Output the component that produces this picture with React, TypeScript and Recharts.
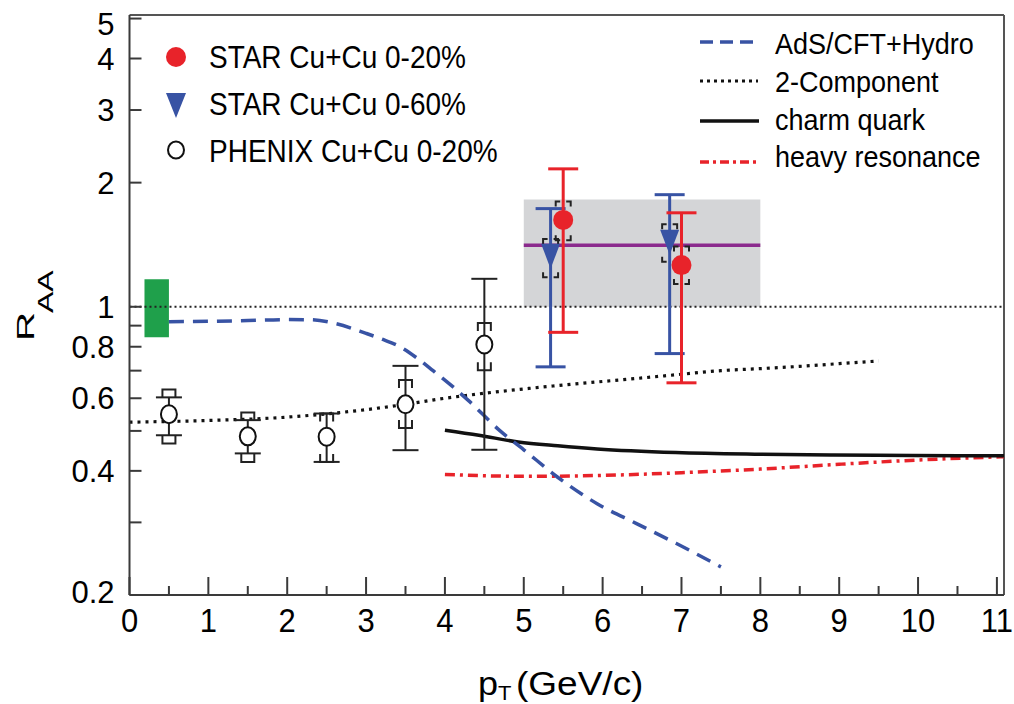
import React from 'react';
import {
  ComposedChart,
  XAxis,
  YAxis,
  Line,
  Scatter,
  ErrorBar,
  ReferenceArea,
  ReferenceLine,
} from 'recharts';

const FONT = '"Liberation Sans", Arial, Helvetica, sans-serif';

const X_MAX = 11.09;
const Y_MIN = 0.2;
const Y_MAX = 5.1;

const xTicks = [0, 0.5, 1, 1.5, 2, 2.5, 3, 3.5, 4, 4.5, 5, 5.5, 6, 6.5, 7, 7.5, 8, 8.5, 9, 9.5, 10, 10.5, 11];
const xTickLabels = ['0', '1', '2', '3', '4', '5', '6', '7', '8', '9', '10', '11'];
const yTicks = [0.2, 0.3, 0.4, 0.5, 0.6, 0.7, 0.8, 0.9, 1, 2, 3, 4, 5];
const yTickLabels = ['0.2', '', '0.4', '', '0.6', '', '0.8', '', '1', '2', '3', '4', '5'];

// PHENIX Cu+Cu 0-20%
const phenixX = [0.5, 1.5, 2.5, 3.5, 4.5];
const phenixY = [0.549, 0.485, 0.484, 0.58, 0.81];
const phenixStatHi = [0.603, 0.531, 0.551, 0.719, 1.169];
const phenixStatLo = [0.488, 0.441, 0.4205, 0.449, 0.45];
const phenixSysHi = [0.63, 0.554, 0.551, 0.664, 0.913];
const phenixSysLo = [0.466, 0.4205, 0.4205, 0.508, 0.702];

// STAR Cu+Cu 0-20%
const star20X = [5.5, 7.0];
const star20Y = [1.624, 1.262];
const star20StatHi = [2.16, 1.69];
const star20StatLo = [0.867, 0.654];
const star20SysHi = [1.8, 1.4];
const star20SysLo = [1.45, 1.135];

// STAR Cu+Cu 0-60%
const star60X = [5.34, 6.85];
const star60Y = [1.33, 1.438];
const star60StatHi = [1.73, 1.87];
const star60StatLo = [0.715, 0.77];
const star60SysHi = [1.46, 1.585];
const star60SysLo = [1.18, 1.285];

// Model curves
const adsX = [0.5, 1.0, 1.5, 2.0, 2.3, 2.6, 3.0, 3.2, 3.43, 3.65, 3.85, 4.1, 4.3, 4.7, 5.0, 5.43, 5.93, 6.43, 6.93, 7.5];
const adsY = [0.92, 0.922, 0.926, 0.931, 0.93, 0.912, 0.862, 0.835, 0.8, 0.75, 0.7, 0.64, 0.592, 0.5, 0.45, 0.386, 0.333, 0.298, 0.267, 0.234];
const twoCompX = [0, 1, 2, 2.5, 3, 3.5, 4, 4.5, 5, 5.5, 6, 6.5, 7, 7.5, 8, 8.5, 9, 9.5];
const twoCompY = [0.525, 0.53, 0.54, 0.55, 0.563, 0.58, 0.6, 0.617, 0.632, 0.646, 0.659, 0.672, 0.686, 0.7, 0.708, 0.717, 0.728, 0.739];
const charmX = [4, 4.43, 4.93, 5.43, 5.93, 6.93, 7.93, 8.93, 9.93, 11.09];
const charmY = [0.502, 0.488, 0.47, 0.46, 0.452, 0.443, 0.439, 0.437, 0.436, 0.435];
const heavyX = [4, 5, 6, 7, 8, 9, 10, 11.09];
const heavyY = [0.392, 0.388, 0.39, 0.396, 0.404, 0.415, 0.425, 0.433];

// Bands and reference lines
const normBox = { x1: 0.19, x2: 0.5, y1: 0.843, y2: 1.166 };
const grayBox = { x1: 5, x2: 8, y1: 1.0, y2: 1.82 };
const purpleLevel = 1.41;

const toXY = (xs: number[], ys: number[]) => xs.map((x, i) => ({ x, y: ys[i] }));
const toPoints = (xs: number[], ys: number[], hi: number[], lo: number[]) =>
  xs.map((x, i) => ({ x, y: ys[i], err: [ys[i] - lo[i], hi[i] - ys[i]] }));
const toBrackets = (xs: number[], hi: number[], lo: number[]) =>
  xs.flatMap((x, i) => [
    { x, y: hi[i], dir: 1 },
    { x, y: lo[i], dir: -1 },
  ]);

const adsData = toXY(adsX, adsY);
const twoCompData = toXY(twoCompX, twoCompY);
const charmData = toXY(charmX, charmY);
const heavyData = toXY(heavyX, heavyY);
const phenixData = toPoints(phenixX, phenixY, phenixStatHi, phenixStatLo);
const star20Data = toPoints(star20X, star20Y, star20StatHi, star20StatLo);
const star60Data = toPoints(star60X, star60Y, star60StatHi, star60StatLo);
const phenixBr = toBrackets(phenixX, phenixSysHi, phenixSysLo);
const star20Br = toBrackets(star20X, star20SysHi, star20SysLo);
const star60Br = toBrackets(star60X, star60SysHi, star60SysLo);

const RED = '#E8232A';
const BLUE = '#3853A4';
const GREEN = '#1FA04B';
const GRAY = '#D4D5D7';
const PURPLE = '#8B2A8D';
const AXIS = '#3a3a3a';

const XTick = (props: any) => {
  const { x, y, payload } = props;
  const v = payload.value as number;
  const major = Math.abs(v - Math.round(v)) < 1e-6;
  return (
    <g>
      <line x1={x} y1={y} x2={x} y2={y - (major ? 18 : 9)} stroke={AXIS} strokeWidth={2} />
      {major && (
        <text
          transform={`translate(${x},${y + 37}) scale(1,1.1)`}
          textAnchor="middle"
          fontSize={31}
          fontFamily={FONT}
          fill="#000"
        >
          {xTickLabels[Math.round(v)]}
        </text>
      )}
    </g>
  );
};

const YTick = (props: any) => {
  const { x, y, payload } = props;
  const v = payload.value as number;
  const i = yTicks.findIndex((t) => Math.abs(t - v) < 1e-9);
  const label = i >= 0 ? yTickLabels[i] : '';
  let off = 11;
  if (label === '0.2') off = 8;
  if (label === '5') off = 16;
  return (
    <g>
      <line x1={x} y1={y} x2={x + 12} y2={y} stroke={AXIS} strokeWidth={2} />
      {label && (
        <text x={x - 15} y={y + off} textAnchor="end" fontSize={31} fontFamily={FONT} fill="#000">
          {label}
        </text>
      )}
    </g>
  );
};

const NoShape = () => <g />;

const starBracket = (props: any) => {
  const { cx, cy, payload } = props;
  const d = payload.dir;
  const w = 7.5;
  const g = 3;
  const leg = 5;
  return (
    <path
      d={`M${cx - w},${cy + d * leg} L${cx - w},${cy} L${cx - g},${cy} M${cx + g},${cy} L${cx + w},${cy} L${cx + w},${cy + d * leg}`}
      stroke="#222"
      strokeWidth={2}
      fill="none"
    />
  );
};

const phenixBracket = (props: any) => {
  const { cx, cy, payload } = props;
  const d = payload.dir;
  const w = 6.5;
  const leg = 8;
  return (
    <path
      d={`M${cx - w},${cy + d * leg} L${cx - w},${cy} L${cx + w},${cy} L${cx + w},${cy + d * leg}`}
      stroke="#222"
      strokeWidth={2}
      fill="none"
    />
  );
};

const redCircle = (props: any) => <circle cx={props.cx} cy={props.cy} r={10} fill={RED} />;
const blueTriangle = (props: any) => {
  const { cx, cy } = props;
  return (
    <path
      d={`M${cx - 9.5},${cy - 12} L${cx + 9.5},${cy - 12} L${cx},${cy + 13} Z`}
      fill={BLUE}
    />
  );
};
const openCircle = (props: any) => (
  <ellipse cx={props.cx} cy={props.cy} rx={8} ry={9} fill="#fff" stroke="#111" strokeWidth={2} />
);

export default function App() {
  return (
    <div style={{ position: 'absolute', left: 0, top: 0, width: 1014, height: 704, background: '#fff' }}>
      <ComposedChart width={1014} height={704} margin={{ top: 15, right: 10, bottom: 0, left: 0 }}>
        <XAxis
          type="number"
          dataKey="x"
          domain={[0, X_MAX]}
          allowDataOverflow
          ticks={xTicks}
          interval={0}
          height={109}
          tickSize={0}
          tickMargin={0}
          tickLine={false}
          tick={<XTick />}
          axisLine={{ stroke: AXIS, strokeWidth: 2 }}
        />
        <YAxis
          type="number"
          dataKey="y"
          scale="log"
          domain={[Y_MIN, Y_MAX]}
          allowDataOverflow
          ticks={yTicks}
          interval={0}
          width={129.5}
          tickSize={0}
          tickMargin={0}
          tickLine={false}
          tick={<YTick />}
          axisLine={{ stroke: AXIS, strokeWidth: 2 }}
        />
        <ReferenceArea x1={grayBox.x1} x2={grayBox.x2} y1={grayBox.y1} y2={grayBox.y2} fill={GRAY} fillOpacity={1} stroke="none" />
        <ReferenceArea x1={normBox.x1} x2={normBox.x2} y1={normBox.y1} y2={normBox.y2} fill={GREEN} fillOpacity={1} stroke="none" />
        <ReferenceLine y={1} stroke="#222" strokeWidth={2.2} strokeDasharray="2 3" />
        <ReferenceLine y={Y_MAX} stroke="#555" strokeWidth={2} />
        <ReferenceLine x={X_MAX} stroke="#555" strokeWidth={2} />
        <Line data={twoCompData} dataKey="y" type="monotone" stroke="#111" strokeWidth={3.2} strokeDasharray="3 5" dot={false} activeDot={false} isAnimationActive={false} />
        <Line data={heavyData} dataKey="y" type="monotone" stroke={RED} strokeWidth={3.5} strokeDasharray="10 5 3 5" dot={false} activeDot={false} isAnimationActive={false} />
        <Line data={charmData} dataKey="y" type="monotone" stroke="#111" strokeWidth={3.5} dot={false} activeDot={false} isAnimationActive={false} />
        <Line data={adsData} dataKey="y" type="monotone" stroke={BLUE} strokeWidth={3.5} strokeDasharray="15 9" dot={false} activeDot={false} isAnimationActive={false} />
        <ReferenceLine segment={[{ x: grayBox.x1, y: purpleLevel }, { x: grayBox.x2, y: purpleLevel }]} stroke={PURPLE} strokeWidth={3.5} />
        {/* statistical error bars */}
        <Scatter data={phenixData} shape={NoShape} isAnimationActive={false}>
          <ErrorBar dataKey="err" direction="y" width={13} stroke="#222" strokeWidth={2} />
        </Scatter>
        <Scatter data={star60Data} shape={NoShape} isAnimationActive={false}>
          <ErrorBar dataKey="err" direction="y" width={15} stroke={BLUE} strokeWidth={3} />
        </Scatter>
        <Scatter data={star20Data} shape={NoShape} isAnimationActive={false}>
          <ErrorBar dataKey="err" direction="y" width={15} stroke={RED} strokeWidth={3} />
        </Scatter>
        {/* systematic brackets */}
        <Scatter data={phenixBr} shape={phenixBracket} isAnimationActive={false} />
        <Scatter data={star60Br} shape={starBracket} isAnimationActive={false} />
        <Scatter data={star20Br} shape={starBracket} isAnimationActive={false} />
        {/* markers */}
        <Scatter data={phenixData} shape={openCircle} isAnimationActive={false} />
        <Scatter data={star60Data} shape={blueTriangle} isAnimationActive={false} />
        <Scatter data={star20Data} shape={redCircle} isAnimationActive={false} />
      </ComposedChart>
      <svg
        width={1014}
        height={704}
        style={{ position: 'absolute', left: 0, top: 0, pointerEvents: 'none' }}
        fontFamily={FONT}
      >
        {/* left legend */}
        <circle cx={176} cy={57} r={10} fill={RED} />
        <path d="M166,93 L186,93 L176,118 Z" fill={BLUE} />
        <ellipse cx={176} cy={150} rx={8} ry={8.5} fill="#fff" stroke="#111" strokeWidth={2} />
        <text transform="translate(209,68) scale(1,1.14)" fontSize={28} fill="#000">STAR Cu+Cu 0-20%</text>
        <text transform="translate(209,115) scale(1,1.14)" fontSize={28} fill="#000">STAR Cu+Cu 0-60%</text>
        <text transform="translate(209,162) scale(1,1.14)" fontSize={28} fill="#000">PHENIX Cu+Cu 0-20%</text>
        {/* right legend */}
        <line x1={700} y1={42} x2={756} y2={42} stroke={BLUE} strokeWidth={3.5} strokeDasharray="13 7" />
        <line x1={700} y1={81} x2={758} y2={81} stroke="#111" strokeWidth={3} strokeDasharray="3 4" />
        <line x1={700} y1={121} x2={759} y2={121} stroke="#111" strokeWidth={3.5} />
        <line x1={700} y1={162} x2={758} y2={162} stroke={RED} strokeWidth={3.5} strokeDasharray="9 4 3 4" />
        <text transform="translate(775,54) scale(1,1.09)" fontSize={27} fill="#000">AdS/CFT+Hydro</text>
        <text transform="translate(775,92) scale(1,1.09)" fontSize={27} fill="#000">2-Component</text>
        <text transform="translate(775,130) scale(1,1.09)" fontSize={27} fill="#000">charm quark</text>
        <text transform="translate(775,167) scale(1,1.09)" fontSize={27} fill="#000">heavy resonance</text>
        {/* axis titles */}
        <text transform="translate(478,695) scale(1,0.92)" fontSize={36} fill="#000">p</text>
        <text transform="translate(498,700) scale(1,0.92)" fontSize={22} fill="#000">T</text>
        <text transform="translate(516,695) scale(1,0.92)" fontSize={37} fill="#000">(GeV/c)</text>
        <text transform="translate(34,341) rotate(-90) scale(1.26,0.74)" fontSize={32} fill="#000">R</text>
        <text transform="translate(53,313) rotate(-90) scale(1.23,0.85)" fontSize={26} fill="#000">AA</text>
      </svg>
    </div>
  );
}
